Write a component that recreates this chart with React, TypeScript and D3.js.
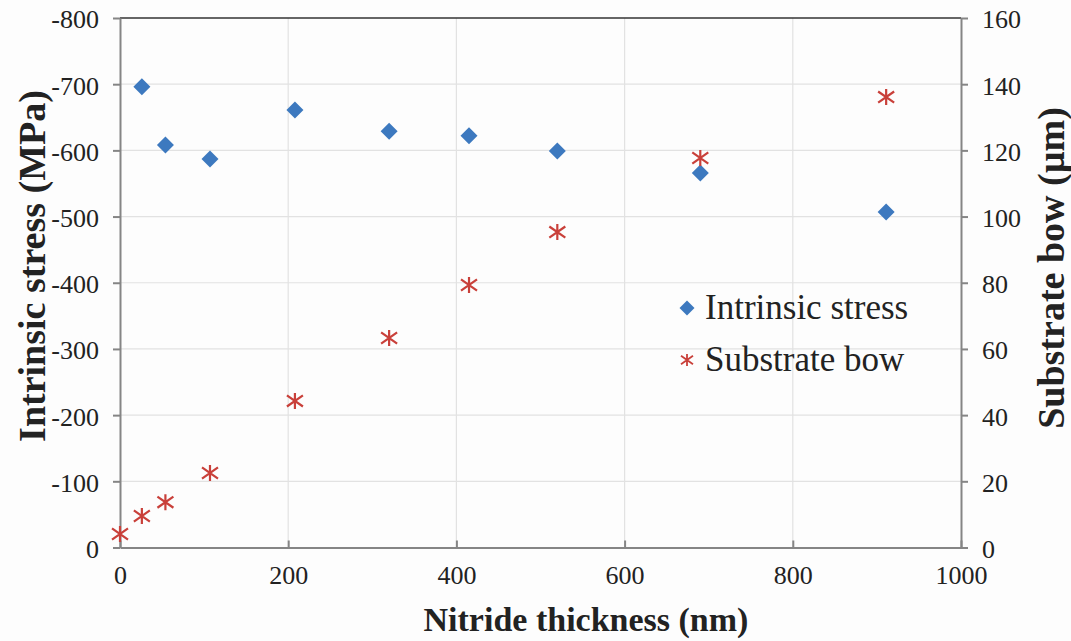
import React, { useEffect, useCallback, useRef } from "react";
import * as d3 from "d3";

// nitride thickness (nm)
const thickness = [26, 54, 107, 208, 320, 415, 520, 690, 911];
const stress = [-696, -608, -587, -661, -629, -622, -599, -566, -507];

const bowThickness = [0, 26, 54, 107, 208, 320, 415, 520, 690, 911];
const bow = [4.1, 9.5, 13.7, 22.5, 44.3, 63.3, 79.3, 95.3, 117.7, 136.1];

const xTicks = [0, 200, 400, 600, 800, 1000];
const leftTicks = [0, -100, -200, -300, -400, -500, -600, -700, -800];
const rightTicks = [0, 20, 40, 60, 80, 100, 120, 140, 160];

const legendItems = ["Intrinsic stress", "Substrate bow"];

const W = 1071;
const H = 641;
const plot = { left: 120, right: 961, top: 18, bottom: 547.5 };
const blue = "#3d79bf";
const red = "#c9403a";
const font = "'Liberation Serif', 'Times New Roman', serif";

const starPath = (s: number) =>
  `M0,${-s}L0,${s}M${-s},${-s * 0.7}L${s},${s * 0.7}M${-s},${s * 0.7}L${s},${-s * 0.7}`;
const diamondPath = (s: number) => `M0,${-s}L${s},0L0,${s}L${-s},0Z`;

const StressChart = () => {
  const svgRef = useRef<SVGSVGElement | null>(null);

  const draw = useCallback((el: SVGSVGElement) => {
    const svg = d3.select(el);
    svg.selectAll("*").remove();

    svg.append("rect").attr("width", W).attr("height", H).attr("fill", "#fdfdfd");

    const x = d3.scaleLinear().domain([0, 1000]).range([plot.left, plot.right]);
    const yL = d3.scaleLinear().domain([0, -800]).range([plot.bottom, plot.top]);
    const yR = d3.scaleLinear().domain([0, 160]).range([plot.bottom, plot.top]);

    // grid
    const grid = svg.append("g").attr("stroke", "#e2e2e2").attr("stroke-width", 1.2);
    grid
      .selectAll("line.h")
      .data(leftTicks.slice(1, -1))
      .join("line")
      .attr("x1", plot.left)
      .attr("x2", plot.right)
      .attr("y1", (d) => yL(d))
      .attr("y2", (d) => yL(d));
    grid
      .selectAll("line.v")
      .data(xTicks.slice(1, -1))
      .join("line")
      .attr("x1", (d) => x(d))
      .attr("x2", (d) => x(d))
      .attr("y1", plot.top)
      .attr("y2", plot.bottom);

    // top border
    svg
      .append("line")
      .attr("x1", plot.left)
      .attr("x2", plot.right)
      .attr("y1", plot.top)
      .attr("y2", plot.top)
      .attr("stroke", "#333")
      .attr("stroke-width", 1.5);

    const axisStyle = (g: d3.Selection<SVGGElement, unknown, null, undefined>) => {
      g.select(".domain").attr("stroke", "#858585").attr("stroke-width", 2);
      g.selectAll(".tick line").attr("stroke", "#858585").attr("stroke-width", 2);
      g.selectAll(".tick text")
        .attr("font-family", font)
        .attr("font-size", 26)
        .attr("fill", "#222");
    };

    // left axis
    svg
      .append("g")
      .attr("transform", `translate(${plot.left},0)`)
      .call(
        d3
          .axisLeft(yL)
          .tickValues(leftTicks)
          .tickSize(7)
          .tickSizeOuter(0)
          .tickPadding(14)
          .tickFormat((d) => String(d))
      )
      .call(axisStyle)
      .call((g) => g.selectAll(".tick text").attr("dy", "0.38em"));

    // right axis
    svg
      .append("g")
      .attr("transform", `translate(${plot.right},0)`)
      .call(
        d3
          .axisRight(yR)
          .tickValues(rightTicks)
          .tickSize(7)
          .tickSizeOuter(0)
          .tickPadding(14)
          .tickFormat((d) => String(d))
      )
      .call(axisStyle)
      .call((g) => g.selectAll(".tick text").attr("dy", "0.38em"));

    // bottom axis, ticks point inward
    svg
      .append("g")
      .attr("transform", `translate(0,${plot.bottom})`)
      .call(
        d3
          .axisBottom(x)
          .tickValues(xTicks)
          .tickSizeInner(-7)
          .tickSizeOuter(0)
          .tickPadding(18)
          .tickFormat((d) => String(d))
      )
      .call(axisStyle)
      .call((g) => g.selectAll(".tick text").attr("dy", "0.71em"));

    // intrinsic stress
    svg
      .append("g")
      .selectAll("path")
      .data(thickness)
      .join("path")
      .attr("transform", (d, i) => `translate(${x(d)},${yL(stress[i])})`)
      .attr("d", diamondPath(8.5))
      .attr("fill", blue);

    // substrate bow
    svg
      .append("g")
      .selectAll("path")
      .data(bowThickness)
      .join("path")
      .attr("transform", (d, i) => `translate(${x(d)},${yR(bow[i])})`)
      .attr("d", starPath(8))
      .attr("fill", "none")
      .attr("stroke", red)
      .attr("stroke-width", 2.2);

    // legend
    const legend = svg.append("g").attr("transform", "translate(687,308)");
    legendItems.forEach((name, i) => {
      const row = legend.append("g").attr("transform", `translate(0,${i * 52})`);
      if (i === 0) {
        row.append("path").attr("d", diamondPath(7.5)).attr("fill", blue);
      } else {
        row
          .append("path")
          .attr("d", starPath(6))
          .attr("fill", "none")
          .attr("stroke", red)
          .attr("stroke-width", 1.8);
      }
      row
        .append("text")
        .attr("x", 18)
        .attr("y", 11)
        .attr("font-family", font)
        .attr("font-size", 35)
        .attr("fill", "#222")
        .text(name);
    });

    // axis titles
    svg
      .append("text")
      .attr("x", 586)
      .attr("y", 631)
      .attr("text-anchor", "middle")
      .attr("font-family", font)
      .attr("font-weight", "bold")
      .attr("font-size", 34)
      .attr("fill", "#222")
      .text("Nitride thickness (nm)");

    svg
      .append("text")
      .attr("transform", "translate(45,266) rotate(-90)")
      .attr("text-anchor", "middle")
      .attr("font-family", font)
      .attr("font-weight", "bold")
      .attr("font-size", 38)
      .attr("fill", "#222")
      .text("Intrinsic stress (MPa)");

    svg
      .append("text")
      .attr("transform", "translate(1064,268) rotate(-90)")
      .attr("text-anchor", "middle")
      .attr("font-family", font)
      .attr("font-weight", "bold")
      .attr("font-size", 38)
      .attr("fill", "#222")
      .text("Substrate bow (µm)");
  }, []);

  useEffect(() => {
    document.body.style.margin = "0";
    if (svgRef.current) draw(svgRef.current);
  }, [draw]);

  return <svg ref={svgRef} width={W} height={H} style={{ display: "block" }} />;
};

export default function App() {
  return <StressChart />;
}
